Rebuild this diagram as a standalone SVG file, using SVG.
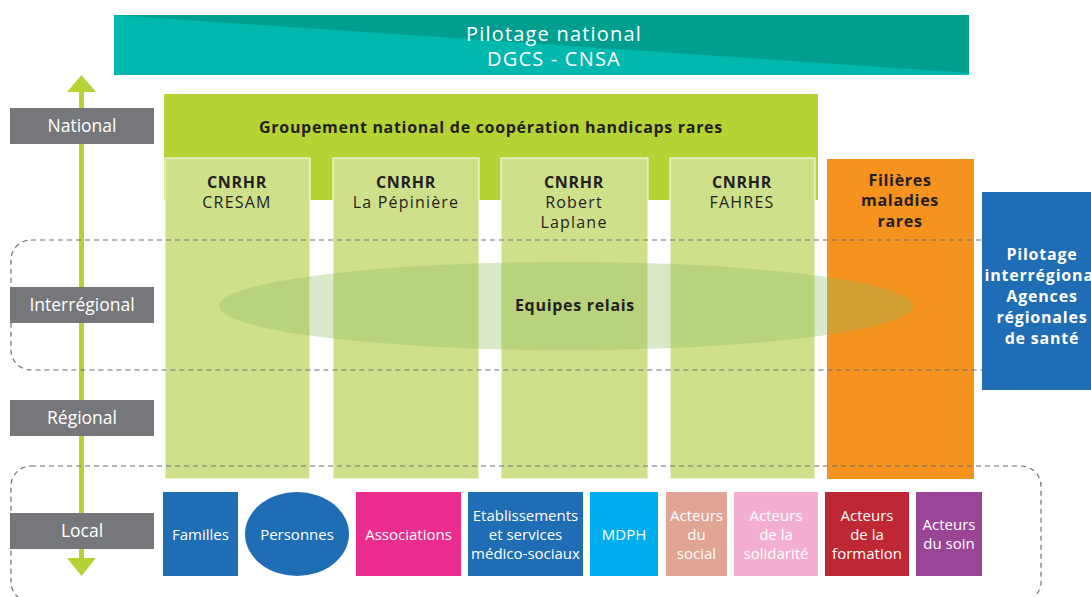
<svg xmlns="http://www.w3.org/2000/svg" width="1091" height="597" viewBox="0 0 1091 597">
<style>
text{font-family:"Open Sans","Liberation Sans",sans-serif;text-anchor:middle}
.lvl{fill:#76777b}
.lt{fill:#fff;font-size:17.5px}
.col{fill:#cfe08a;stroke:#fff;stroke-width:1}
.ct{fill:#231f20;font-size:16px;letter-spacing:1.2px}
.b{font-weight:bold;letter-spacing:0.7px}
.dash{fill:none;stroke:#6d6e71;stroke-width:1.2;stroke-dasharray:5 4}
.bt{fill:#fff;font-size:15px}
.at{fill:#fff;font-size:16px;font-weight:bold;letter-spacing:0.8px}
</style>
<rect width="1091" height="597" fill="#fff"/>
<g id="banner">
<rect x="114" y="15" width="855" height="60" fill="#00b8ad"/>
<polygon points="114,15 969,15 969,73" fill="#009e8f"/>
<text x="554" y="41" fill="#fff" font-size="20" letter-spacing="1.2">Pilotage national</text>
<text x="554" y="66" fill="#fff" font-size="20" letter-spacing="1.2">DGCS - CNSA</text>
</g>
<g id="axis">
<line x1="81.5" y1="88" x2="81.5" y2="562" stroke="#b5d334" stroke-width="5"/>
<polygon points="81.5,75 67,92 96,92" fill="#b5d334"/>
<polygon points="81.5,576 67,558 96,558" fill="#b5d334"/>
</g>
<g id="lvl-national"><rect class="lvl" x="10" y="108" width="144" height="36"/><text class="lt" x="82" y="132">National</text></g>
<g id="lvl-interregional"><rect class="lvl" x="10" y="287" width="144" height="36"/><text class="lt" x="82" y="311">Interrégional</text></g>
<g id="lvl-regional"><rect class="lvl" x="10" y="400" width="144" height="36"/><text class="lt" x="82" y="424">Régional</text></g>
<g id="lvl-local"><rect class="lvl" x="10" y="513" width="144" height="36"/><text class="lt" x="82" y="537">Local</text></g>
<g id="gncr">
<rect x="164" y="94" width="654" height="106" fill="#b5d334"/>
<text class="ct b" x="491" y="133">Groupement national de coopération handicaps rares</text>
</g>
<g id="cresam"><rect class="col" x="165" y="158" width="145" height="321"/><text class="ct b" x="237" y="188">CNRHR</text><text class="ct" x="237" y="208">CRESAM</text></g>
<g id="pepiniere"><rect class="col" x="333" y="158" width="146" height="321"/><text class="ct b" x="406" y="188">CNRHR</text><text class="ct" x="406" y="208">La Pépinière</text></g>
<g id="laplane"><rect class="col" x="501" y="158" width="147" height="321"/><text class="ct b" x="574" y="188">CNRHR</text><text class="ct" x="574" y="208">Robert</text><text class="ct" x="574" y="228">Laplane</text></g>
<g id="fahres"><rect class="col" x="670" y="158" width="145" height="321"/><text class="ct b" x="742" y="188">CNRHR</text><text class="ct" x="742" y="208">FAHRES</text></g>
<g id="filieres"><rect x="827" y="159" width="147" height="320" fill="#f6921e"/><text class="ct b" x="900" y="186">Filières</text><text class="ct b" x="900" y="206">maladies</text><text class="ct b" x="900" y="227">rares</text></g>
<g id="zones">
<rect class="dash" x="11" y="240" width="1080" height="130" rx="20"/>
<rect class="dash" x="11" y="466" width="1030" height="136" rx="20"/>
</g>
<g id="equipes">
<ellipse cx="566" cy="306" rx="347" ry="44" fill="#8fbd62" fill-opacity="0.34"/>
<text class="ct b" x="575" y="311">Equipes relais</text>
</g>
<g id="ars">
<rect x="982" y="192" width="109" height="198" fill="#1f6db4"/>
<text class="at" x="1042" y="260">Pilotage</text>
<text class="at" x="1042" y="281">interrégional</text>
<text class="at" x="1042" y="302">Agences</text>
<text class="at" x="1042" y="323">régionales</text>
<text class="at" x="1042" y="344">de santé</text>
</g>
<g id="familles"><rect x="163" y="492" width="75" height="84" fill="#1f6db4"/><text class="bt" x="200.5" y="540">Familles</text></g>
<g id="personnes"><ellipse cx="297" cy="534" rx="52" ry="42" fill="#1f6db4"/><text class="bt" x="297" y="540">Personnes</text></g>
<g id="associations"><rect x="356" y="492" width="105" height="84" fill="#ec2d8f"/><text class="bt" x="408.5" y="540">Associations</text></g>
<g id="etablissements"><rect x="468" y="492" width="115" height="84" fill="#1f6db4"/><text class="bt" x="525.5" y="521">Etablissements</text><text class="bt" x="525.5" y="540">et services</text><text class="bt" x="525.5" y="559">médico-sociaux</text></g>
<g id="mdph"><rect x="590" y="492" width="68" height="84" fill="#00aeef"/><text class="bt" x="624" y="540">MDPH</text></g>
<g id="social"><rect x="666" y="492" width="61" height="84" fill="#e0a595"/><text class="bt" x="696.5" y="521">Acteurs</text><text class="bt" x="696.5" y="540">du</text><text class="bt" x="696.5" y="559">social</text></g>
<g id="solidarite"><rect x="734" y="492" width="84" height="84" fill="#f4afd0"/><text class="bt" x="776" y="521">Acteurs</text><text class="bt" x="776" y="540">de la</text><text class="bt" x="776" y="559">solidarité</text></g>
<g id="formation"><rect x="825" y="492" width="84" height="84" fill="#be2733"/><text class="bt" x="867" y="521">Acteurs</text><text class="bt" x="867" y="540">de la</text><text class="bt" x="867" y="559">formation</text></g>
<g id="soin"><rect x="916" y="492" width="66" height="84" fill="#9a4596"/><text class="bt" x="949" y="530">Acteurs</text><text class="bt" x="949" y="549">du soin</text></g>
</svg>
